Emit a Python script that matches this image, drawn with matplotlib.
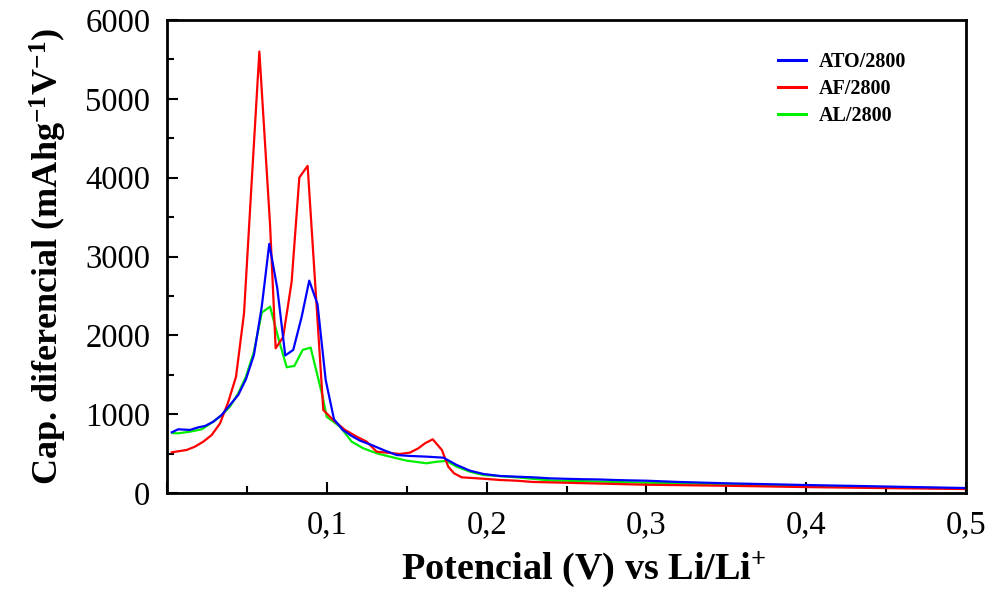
import matplotlib
matplotlib.use("Agg")
import matplotlib.pyplot as plt
from matplotlib.ticker import MultipleLocator, FuncFormatter

plt.rcParams['font.family'] = ['Liberation Serif', 'DejaVu Serif']
plt.rcParams['mathtext.fontset'] = 'custom'
plt.rcParams['mathtext.rm'] = 'Liberation Serif'
plt.rcParams['mathtext.bf'] = 'Liberation Serif:bold'
plt.rcParams['mathtext.it'] = 'Liberation Serif:italic'

# ---- data ----
ato_x = [0.003, 0.007, 0.0144, 0.0196, 0.0238, 0.029, 0.0342, 0.0394, 0.0446, 0.0494,
         0.0544, 0.0593, 0.064, 0.069, 0.074, 0.079, 0.0843, 0.089, 0.0942, 0.0993,
         0.1045, 0.110, 0.1156, 0.1208, 0.128, 0.1364, 0.1437, 0.152, 0.1625, 0.173,
         0.1813, 0.1896, 0.198, 0.2084, 0.2188, 0.229, 0.2397, 0.25, 0.26, 0.27,
         0.28, 0.29, 0.30, 0.32, 0.35, 0.38, 0.40, 0.43, 0.46, 0.50]
ato_y = [770, 808, 800, 833, 850, 905, 990, 1117, 1244, 1443,
         1751, 2364, 3160, 2598, 1745, 1815, 2237, 2694, 2395, 1434,
         935, 800, 723, 664, 609, 537, 482, 470, 461, 448,
         355, 283, 241, 216, 207, 199, 186, 180, 175, 172,
         165, 160, 156, 140, 123, 110, 101, 90, 78, 63]

af_x = [0.003, 0.0123, 0.0175, 0.0227, 0.028, 0.0332, 0.0384, 0.0432, 0.0482, 0.053,
        0.0578, 0.0645, 0.068, 0.0727, 0.078, 0.0828, 0.088, 0.093, 0.0978, 0.104,
        0.1114, 0.1187, 0.125, 0.1312, 0.1375, 0.1458, 0.152, 0.1573, 0.1614, 0.1663,
        0.172, 0.176, 0.1796, 0.1844, 0.198, 0.2084, 0.2188, 0.229, 0.2397, 0.26,
        0.28, 0.30, 0.35, 0.40, 0.45, 0.50]
af_y = [516, 546, 588, 651, 736, 884, 1159, 1476, 2280, 3950,
        5600, 3400, 1836, 1980, 2680, 4001, 4150, 2570, 1053, 926,
        800, 715, 651, 524, 512, 495, 512, 567, 630, 681,
        546, 334, 250, 199, 181, 165, 156, 140, 135, 125,
        115, 105, 92, 75, 62, 50]

al_x = [0.0035, 0.0071, 0.0144, 0.0217, 0.029, 0.0342, 0.0394, 0.0446, 0.0494, 0.0544,
        0.0593, 0.0645, 0.0697, 0.0749, 0.0797, 0.0849, 0.0899, 0.0974, 0.0999, 0.1083,
        0.1156, 0.1228, 0.1312, 0.1395, 0.15, 0.1625, 0.1688, 0.175, 0.1813, 0.1896,
        0.198, 0.2188, 0.2397, 0.26, 0.28, 0.30, 0.35, 0.40, 0.45, 0.50]
al_y = [760, 757, 778, 808, 905, 985, 1096, 1265, 1476, 1793,
        2288, 2364, 1963, 1595, 1612, 1815, 1844, 1222, 968, 842,
        651, 567, 504, 461, 410, 377, 397, 406, 334, 270,
        228, 199, 160, 150, 140, 131, 110, 89, 72, 58]

labels = ["ATO/2800", "AF/2800", "AL/2800"]
colors = ["#0000ff", "#ff0000", "#00ee00"]

fig = plt.figure(figsize=(9.89, 5.92), dpi=100)
ax = fig.add_axes([167/989, 1-493/592, (966-167)/989, (493-20)/592])

l_al, = ax.plot(al_x, al_y, color=colors[2], lw=1.6)
l_af, = ax.plot(af_x, af_y, color=colors[1], lw=1.6)
l_ato, = ax.plot(ato_x, ato_y, color=colors[0], lw=1.6)

ax.set_xlim(0, 0.5)
ax.set_ylim(0, 6000)
ax.xaxis.set_major_locator(MultipleLocator(0.1))
ax.xaxis.set_minor_locator(MultipleLocator(0.05))
ax.yaxis.set_major_locator(MultipleLocator(1000))
ax.yaxis.set_minor_locator(MultipleLocator(500))

def xfmt(v, pos):
    if abs(v) < 1e-9:
        return ""
    return f"{v:.1f}".replace(".", ",")
ax.xaxis.set_major_formatter(FuncFormatter(xfmt))
ax.yaxis.set_major_formatter(FuncFormatter(lambda v, p: f"{int(round(v))}"))

ax.tick_params(which='both', direction='in', top=False, right=False, labelsize=23.5, width=1.5)
ax.tick_params(which='major', length=8)
ax.tick_params(which='minor', length=5)
ax.tick_params(axis='y', pad=12)
ax.tick_params(axis='x', pad=12)
for s in ax.spines.values():
    s.set_linewidth(2)

ax.set_xlabel(r"Potencial (V) vs Li/Li$^{\mathbf{+}}$", fontsize=27.5, fontweight='bold')
ax.xaxis.set_label_coords(0.522, -0.12)
ax.set_ylabel(r"Cap. diferencial (mAhg$^{\mathbf{-1}}$V$^{\mathbf{-1}}$)", fontsize=26,
              fontweight='bold', labelpad=12)

leg = ax.legend([l_ato, l_af, l_al], labels, loc='upper left',
                bbox_to_anchor=(768/989, 1-42/592), bbox_transform=fig.transFigure,
                frameon=False, prop={'weight': 'bold', 'size': 14.5},
                handlelength=1.4, handletextpad=0.6, labelspacing=0.35, borderpad=0)
for h in leg.get_lines():
    h.set_linewidth(2.2)

fig.savefig("out.png", dpi=100)
